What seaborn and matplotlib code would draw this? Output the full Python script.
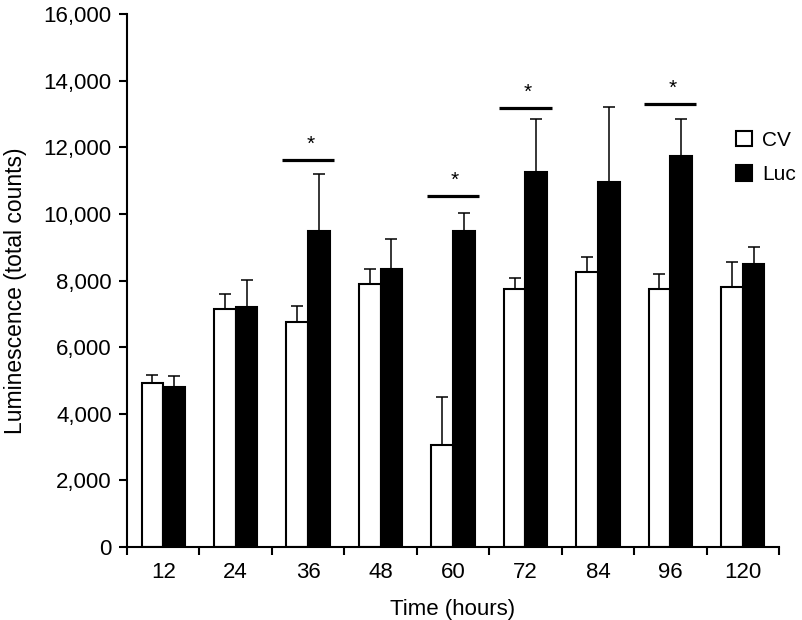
import numpy as np
import pandas as pd
import matplotlib.pyplot as plt
import seaborn as sns
from matplotlib.patches import Patch
from matplotlib.ticker import FuncFormatter

# data
times = ["12", "24", "36", "48", "60", "72", "84", "96", "120"]
cv_mean = [4920, 7150, 6750, 7900, 3060, 7740, 8270, 7740, 7810]
cv_err = [230, 450, 500, 450, 1450, 340, 430, 460, 740]
luc_mean = [4800, 7200, 9500, 8350, 9500, 11270, 10950, 11730, 8500]
luc_err = [320, 820, 1700, 900, 540, 1570, 2270, 1120, 520]

# significance bars: time label, height of the line
sig_times = ["36", "60", "72", "96"]
sig_heights = [11620, 10540, 13170, 13290]

sns.set_style("ticks")
plt.rcParams["font.family"] = ["Liberation Sans", "DejaVu Sans"]
plt.rcParams.update({
    "text.color": "black",
    "axes.labelcolor": "black",
    "xtick.color": "black",
    "ytick.color": "black",
    "axes.edgecolor": "black",
})

df = pd.DataFrame({
    "Time": times * 2,
    "Value": cv_mean + luc_mean,
    "Group": ["CV"] * len(times) + ["Luc"] * len(times),
})

fig = plt.figure(figsize=(8.02, 6.2), dpi=100)
ax = fig.add_axes([0.1584, 0.1177, 0.8129, 0.8597])

sns.barplot(
    data=df, x="Time", y="Value", hue="Group", order=times,
    hue_order=["CV", "Luc"], palette={"CV": "white", "Luc": "black"},
    width=0.6, errorbar=None, edgecolor="black", linewidth=1.5,
    legend=False, ax=ax,
)

# one-sided error bars on top of each bar
for bars, errs in zip(ax.containers, [cv_err, luc_err]):
    xs = [b.get_x() + b.get_width() / 2 for b in bars]
    ys = [b.get_height() for b in bars]
    ax.errorbar(xs, ys, yerr=[np.zeros(len(errs)), errs], fmt="none",
                ecolor="black", elinewidth=1.1, capsize=4, capthick=1.1,
                zorder=1)

# significance lines and stars
for t, h in zip(sig_times, sig_heights):
    i = times.index(t)
    ax.plot([i - 0.36, i + 0.36], [h, h], color="black", lw=2.3,
            solid_capstyle="butt")
    ax.text(i + 0.03, h + 180, "*", ha="center", va="bottom", fontsize=15)

ax.set_xlim(-0.5, len(times) - 0.5)
ax.set_ylim(0, 16000)
ax.set_yticks(np.arange(0, 16001, 2000))
ax.yaxis.set_major_formatter(FuncFormatter(lambda v, p: f"{int(v):,}"))

# tick marks between groups, labels at group centres
ax.set_xticks(np.arange(-0.5, len(times), 1.0))
ax.set_xticklabels([])
ax.set_xticks(np.arange(len(times)), minor=True)
ax.set_xticklabels(times, minor=True)
ax.tick_params(axis="x", which="minor", length=0, pad=11, labelsize=16)
ax.tick_params(axis="x", which="major", length=6, width=1.5, direction="out")
ax.tick_params(axis="y", length=6, width=1.5, labelsize=16, pad=5)

ax.set_xlabel("Time (hours)", fontsize=16, labelpad=11)
ax.set_ylabel("Luminescence (total counts)", fontsize=16.5)
ax.yaxis.set_label_coords(-0.153, 0.48)

for s in ["left", "bottom"]:
    ax.spines[s].set_linewidth(1.5)
sns.despine(ax=ax)

handles = [Patch(facecolor="white", edgecolor="black", linewidth=1.5, label="CV"),
           Patch(facecolor="black", edgecolor="black", linewidth=1.5, label="Luc")]
ax.legend(handles=handles, loc="upper left", bbox_to_anchor=(0.9177, 0.789),
          bbox_transform=fig.transFigure, frameon=False, fontsize=15,
          borderpad=0, borderaxespad=0, handlelength=0.77, handleheight=0.77,
          handletextpad=0.5, labelspacing=0.75)

fig.savefig("out.png", dpi=100)
